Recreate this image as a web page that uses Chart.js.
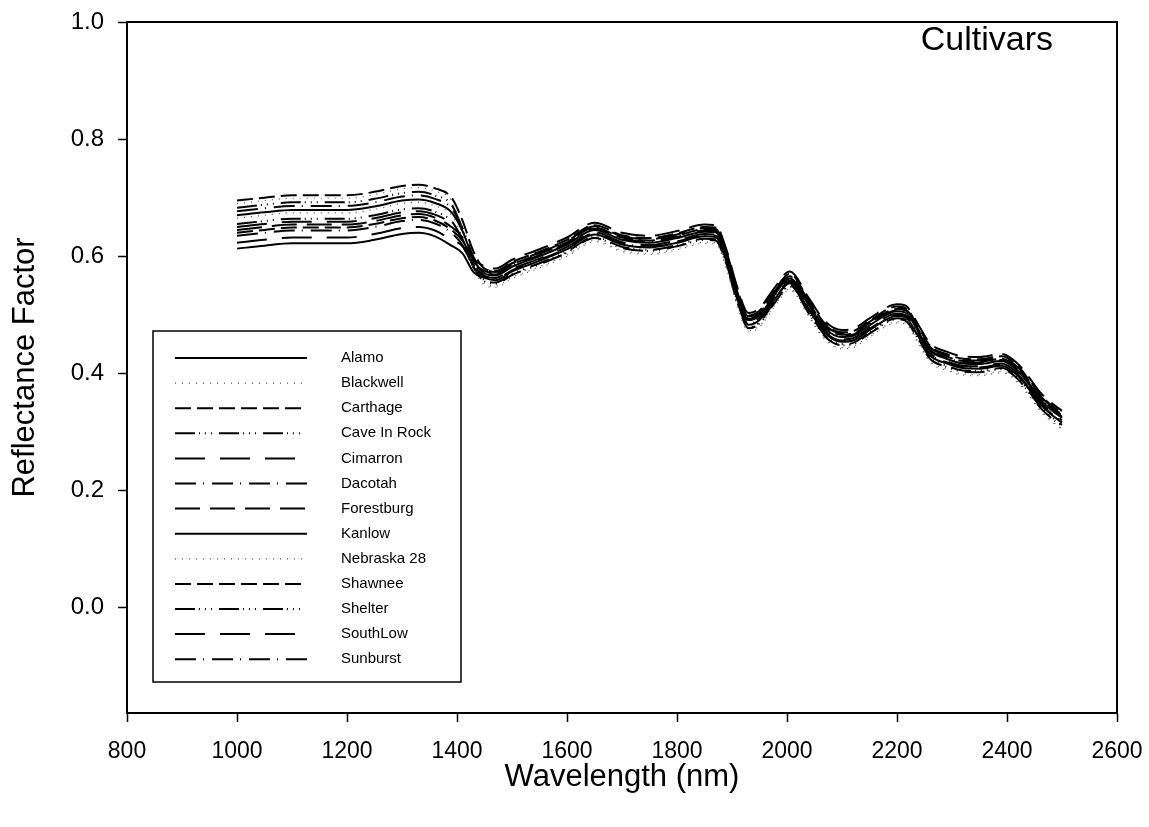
<!DOCTYPE html>
<html>
<head>
<meta charset="utf-8">
<title>Cultivars reflectance spectra</title>
<script src="https://cdn.jsdelivr.net/npm/chart.js@4"></script>
<style>
  html, body { margin: 0; padding: 0; background: #ffffff; }
  #c { display: block; }
</style>
</head>
<body>
<canvas id="c" width="1149" height="827"></canvas>
<script>
// Wavelength grid (nm) shared by all cultivar spectra
const wavelengths = [1000,1050,1100,1150,1200,1250,1300,1330,1360,1390,1410,1430,1450,1470,1500,1550,1600,1650,1700,1750,1800,1850,1870,1890,1910,1930,1950,1975,2005,2040,2070,2100,2120,2150,2200,2215,2240,2260,2290,2320,2350,2390,2420,2440,2460,2480,2500];

// Reflectance factor per cultivar
const alamo      = [0.670,0.675,0.679,0.679,0.679,0.685,0.695,0.697,0.691,0.675,0.643,0.595,0.571,0.567,0.582,0.600,0.620,0.645,0.628,0.623,0.631,0.642,0.641,0.599,0.534,0.491,0.499,0.531,0.562,0.516,0.476,0.462,0.464,0.482,0.506,0.504,0.469,0.439,0.425,0.417,0.416,0.421,0.404,0.381,0.356,0.338,0.324];
const blackwell  = [0.690,0.695,0.699,0.699,0.699,0.705,0.715,0.717,0.711,0.695,0.647,0.589,0.553,0.549,0.564,0.582,0.602,0.627,0.610,0.605,0.613,0.624,0.623,0.581,0.516,0.473,0.481,0.513,0.544,0.498,0.458,0.444,0.446,0.464,0.488,0.486,0.451,0.421,0.407,0.399,0.398,0.403,0.386,0.363,0.338,0.320,0.306];
const carthage   = [0.695,0.700,0.704,0.704,0.704,0.710,0.720,0.722,0.716,0.700,0.661,0.608,0.579,0.575,0.590,0.608,0.628,0.653,0.636,0.631,0.639,0.650,0.649,0.607,0.542,0.499,0.507,0.539,0.570,0.524,0.484,0.470,0.472,0.490,0.514,0.512,0.477,0.447,0.433,0.425,0.424,0.429,0.412,0.389,0.364,0.346,0.332];
const caveInRock = [0.683,0.688,0.692,0.692,0.692,0.698,0.708,0.710,0.704,0.688,0.646,0.591,0.559,0.555,0.570,0.588,0.608,0.633,0.616,0.611,0.619,0.630,0.629,0.587,0.522,0.479,0.487,0.519,0.550,0.504,0.464,0.450,0.452,0.470,0.494,0.492,0.457,0.427,0.413,0.405,0.404,0.409,0.392,0.369,0.344,0.326,0.312];
const cimarron   = [0.650,0.655,0.659,0.659,0.659,0.665,0.675,0.677,0.671,0.655,0.629,0.586,0.567,0.563,0.578,0.596,0.616,0.641,0.624,0.619,0.627,0.638,0.637,0.595,0.530,0.487,0.495,0.527,0.558,0.512,0.472,0.458,0.460,0.478,0.502,0.500,0.465,0.435,0.421,0.413,0.412,0.417,0.400,0.377,0.352,0.334,0.320];
const dacotah    = [0.677,0.682,0.686,0.686,0.686,0.692,0.702,0.704,0.698,0.682,0.648,0.599,0.573,0.569,0.584,0.602,0.622,0.647,0.630,0.625,0.633,0.644,0.643,0.601,0.536,0.493,0.501,0.533,0.564,0.518,0.478,0.464,0.466,0.484,0.508,0.506,0.471,0.441,0.427,0.419,0.418,0.423,0.406,0.383,0.358,0.340,0.326];
const forestburg = [0.645,0.650,0.654,0.654,0.654,0.660,0.670,0.672,0.666,0.650,0.632,0.596,0.583,0.579,0.594,0.612,0.632,0.657,0.640,0.635,0.643,0.654,0.653,0.611,0.546,0.503,0.511,0.543,0.574,0.528,0.488,0.474,0.476,0.494,0.518,0.516,0.481,0.451,0.437,0.429,0.428,0.433,0.416,0.393,0.368,0.350,0.336];
const kanlow     = [0.613,0.618,0.622,0.622,0.622,0.628,0.638,0.640,0.634,0.618,0.605,0.573,0.563,0.559,0.574,0.592,0.612,0.637,0.620,0.615,0.623,0.634,0.633,0.591,0.526,0.483,0.491,0.523,0.554,0.508,0.468,0.454,0.456,0.474,0.498,0.496,0.461,0.431,0.417,0.409,0.408,0.413,0.396,0.373,0.348,0.330,0.316];
const nebraska28 = [0.665,0.670,0.674,0.674,0.674,0.680,0.690,0.692,0.686,0.670,0.632,0.580,0.551,0.547,0.562,0.580,0.600,0.625,0.608,0.603,0.611,0.622,0.621,0.579,0.514,0.471,0.479,0.511,0.542,0.496,0.456,0.442,0.444,0.462,0.486,0.484,0.449,0.419,0.405,0.397,0.396,0.401,0.384,0.361,0.336,0.318,0.304];
const shawnee    = [0.640,0.645,0.649,0.649,0.649,0.655,0.665,0.667,0.661,0.645,0.626,0.589,0.575,0.571,0.586,0.604,0.624,0.649,0.632,0.627,0.635,0.646,0.645,0.603,0.538,0.495,0.503,0.535,0.566,0.520,0.480,0.466,0.468,0.486,0.510,0.508,0.473,0.443,0.429,0.421,0.420,0.425,0.408,0.385,0.360,0.342,0.328];
const shelter    = [0.655,0.660,0.664,0.664,0.664,0.670,0.680,0.682,0.676,0.660,0.628,0.581,0.557,0.553,0.568,0.586,0.606,0.631,0.614,0.609,0.617,0.628,0.627,0.585,0.520,0.477,0.485,0.517,0.548,0.502,0.462,0.448,0.450,0.468,0.492,0.490,0.455,0.425,0.411,0.403,0.402,0.407,0.390,0.367,0.342,0.324,0.310];
const southLow   = [0.623,0.628,0.632,0.632,0.632,0.638,0.648,0.650,0.644,0.628,0.617,0.585,0.577,0.573,0.588,0.606,0.626,0.651,0.634,0.629,0.637,0.648,0.647,0.605,0.540,0.497,0.505,0.537,0.568,0.522,0.482,0.468,0.470,0.488,0.512,0.510,0.475,0.445,0.431,0.423,0.422,0.427,0.410,0.387,0.362,0.344,0.330];
const sunburst   = [0.635,0.640,0.644,0.644,0.644,0.650,0.660,0.662,0.656,0.640,0.619,0.581,0.565,0.561,0.576,0.594,0.614,0.639,0.622,0.617,0.625,0.636,0.635,0.593,0.528,0.485,0.493,0.525,0.556,0.510,0.470,0.456,0.458,0.476,0.500,0.498,0.463,0.433,0.419,0.411,0.410,0.415,0.398,0.375,0.350,0.332,0.318];

const cultivarNames = ['Alamo','Blackwell','Carthage','Cave In Rock','Cimarron','Dacotah','Forestburg','Kanlow','Nebraska 28','Shawnee','Shelter','SouthLow','Sunburst'];
const cultivarSeries = [alamo, blackwell, carthage, caveInRock, cimarron, dacotah, forestburg, kanlow, nebraska28, shawnee, shelter, southLow, sunburst];

// Axis ticks
const xTicks = [800,1000,1200,1400,1600,1800,2000,2200,2400,2600];
const yTicks = [0.0,0.2,0.4,0.6,0.8,1.0];

// Line styles cycle: solid, dotted, short dash, dash-dot-dot, long dash, dash-dot, medium dash
const SOLID = [];
const DOT = [1,6];
const DASH = [16,6];
const DASH_DOT_DOT = [20,4,1,5,1,5,1,7];
const LONG_DASH = [30,15];
const DASH_DOT = [21,7,1,8];
const MED_DASH = [25,10];
const dashCycle = [SOLID, DOT, DASH, DASH_DOT_DOT, LONG_DASH, DASH_DOT, MED_DASH];

const FONT = '"Liberation Sans", Arial, Helvetica, sans-serif';

const datasets = cultivarNames.map((name, i) => {
  const dash = dashCycle[i % dashCycle.length];
  const dotted = dash === DOT;
  return {
    label: name,
    data: wavelengths.map((w, k) => ({ x: w, y: cultivarSeries[i][k] })),
    borderColor: dotted ? '#555555' : '#000000',
    borderWidth: dotted ? 1.2 : 2,
    borderDash: dash,
    pointRadius: 0,
    fill: false,
    cubicInterpolationMode: 'monotone'
  };
});

// Box around the plotting area
const frame = {
  id: 'frame',
  afterDatasetsDraw(chart) {
    const { ctx, chartArea: a } = chart;
    ctx.save();
    ctx.strokeStyle = '#000';
    ctx.lineWidth = 2;
    ctx.setLineDash([]);
    ctx.strokeRect(a.left, a.top, a.right - a.left, a.bottom - a.top);
    ctx.restore();
  }
};

// Panel label and boxed legend inside the plot
const annotations = {
  id: 'annotations',
  afterDraw(chart) {
    const { ctx, chartArea: a } = chart;
    ctx.save();
    ctx.fillStyle = '#000';
    ctx.font = '34px ' + FONT;
    ctx.textAlign = 'right';
    ctx.textBaseline = 'middle';
    ctx.fillText('Cultivars', a.right - 64, a.top + 19);

    const box = { left: 153, top: 331, right: 461, bottom: 682 };
    ctx.strokeStyle = '#000';
    ctx.lineWidth = 1.5;
    ctx.setLineDash([]);
    ctx.strokeRect(box.left, box.top, box.right - box.left, box.bottom - box.top);

    ctx.font = '15px ' + FONT;
    ctx.textAlign = 'left';
    chart.data.datasets.forEach((ds, i) => {
      const y = 358 + i * 25.1;
      ctx.beginPath();
      ctx.setLineDash(ds.borderDash);
      ctx.lineWidth = ds.borderWidth;
      ctx.strokeStyle = ds.borderColor;
      ctx.moveTo(175, y);
      ctx.lineTo(307, y);
      ctx.stroke();
      ctx.setLineDash([]);
      ctx.fillStyle = '#000';
      ctx.fillText(ds.label, 341, y);
    });
    ctx.restore();
  }
};

new Chart(document.getElementById('c'), {
  type: 'line',
  data: { datasets },
  plugins: [frame, annotations],
  options: {
    responsive: false,
    animation: false,
    layout: { padding: { left: 0, right: 32, top: 22, bottom: 0 } },
    plugins: { legend: { display: false }, tooltip: { enabled: false } },
    scales: {
      x: {
        type: 'linear',
        min: 800,
        max: 2600,
        afterBuildTicks: s => { s.ticks = xTicks.map(v => ({ value: v })); },
        afterFit: s => { s.height = 114; s.paddingLeft = 0; s.paddingRight = 0; },
        grid: { drawOnChartArea: false, tickLength: 9, tickWidth: 1.5, color: '#000' },
        border: { color: '#000', width: 2 },
        ticks: { color: '#000', font: { family: FONT, size: 23 }, padding: 16, maxRotation: 0, autoSkip: false,
                 callback: v => String(v) },
        title: { display: true, text: 'Wavelength (nm)', color: '#000', font: { family: FONT, size: 31 },
                 padding: { top: 0, bottom: 31 } }
      },
      y: {
        type: 'linear',
        min: -0.18,
        max: 1.0,
        afterBuildTicks: s => { s.ticks = yTicks.map(v => ({ value: v })); },
        afterFit: s => { s.width = 127; s.paddingTop = 0; s.paddingBottom = 0; },
        grid: { drawOnChartArea: false, tickLength: 9, tickWidth: 1.5, color: '#000' },
        border: { color: '#000', width: 2 },
        ticks: { color: '#000', font: { family: FONT, size: 24 }, padding: 14,
                 callback: v => Number(v).toFixed(1) },
        title: { display: true, text: 'Reflectance Factor', color: '#000', font: { family: FONT, size: 31 },
                 padding: { top: 7, bottom: 0 } }
      }
    }
  }
});
</script>
</body>
</html>
